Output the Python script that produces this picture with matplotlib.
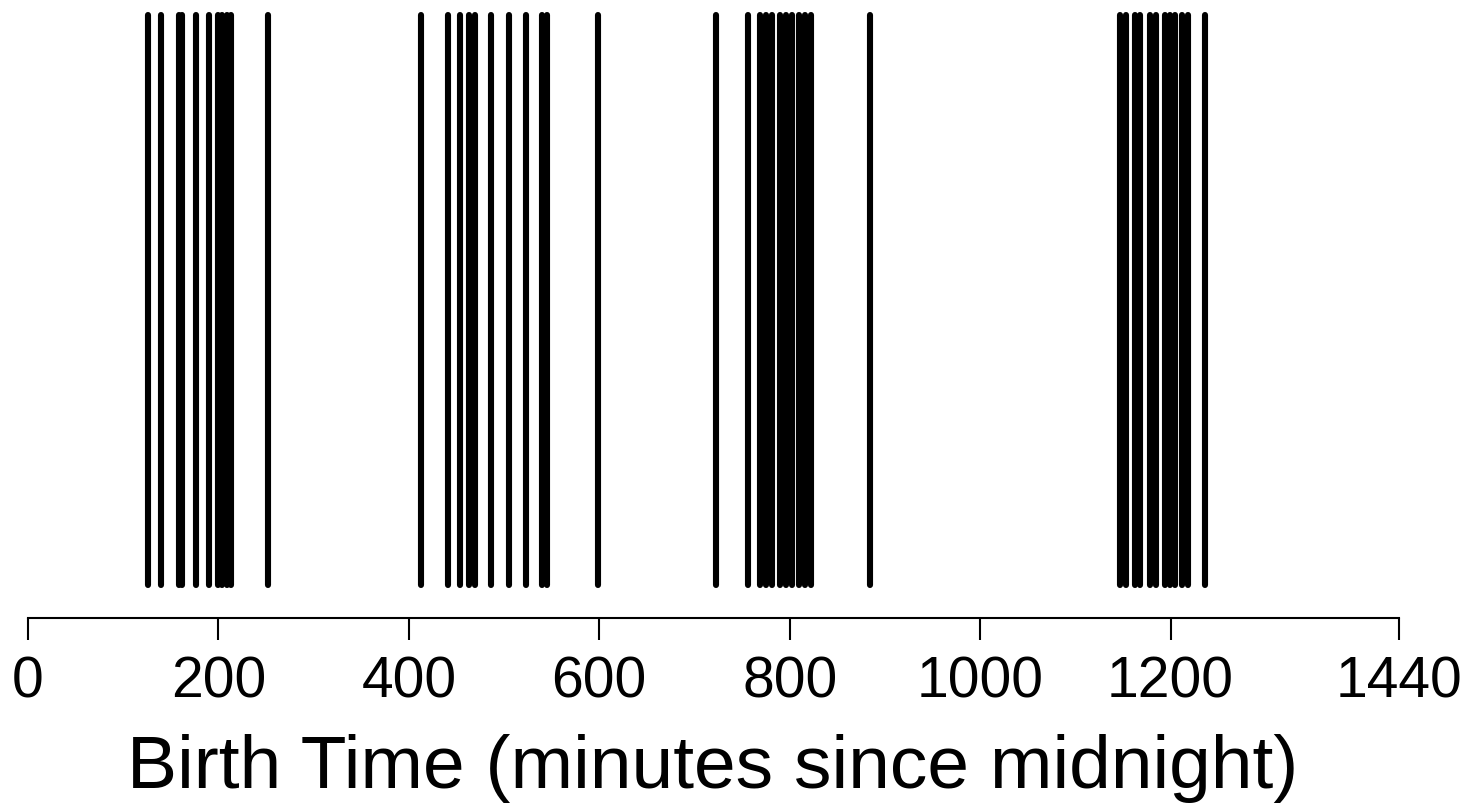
import matplotlib
matplotlib.use('Agg')
import matplotlib.pyplot as plt

# birth times, minutes since midnight
birth_minutes = [126, 140, 159, 162, 176, 190, 200, 204, 209, 213, 252,
                 413, 441, 454, 463, 470, 486, 505, 523, 540, 545, 599,
                 723, 756, 769, 775, 781, 790, 796, 802, 810, 816, 822, 884,
                 1147, 1153, 1163, 1168, 1178, 1185, 1194, 1199, 1205, 1212, 1218, 1236]
tick_values = [0, 200, 400, 600, 800, 1000, 1200, 1440]

plt.rcParams['font.family'] = ['Liberation Sans', 'DejaVu Sans']

W, H = 1473, 807
fig = plt.figure(figsize=(W / 100, H / 100), dpi=100)
ax = fig.add_axes([28 / W, (H - 618) / H, 1371 / W, 618 / H])

ax.vlines(birth_minutes, 0, 1, colors='black', linewidth=4.4,
          capstyle='round', clip_on=False)

ax.set_xlim(0, 1440)
ax.set_ylim(-33 / 570, 1 + 15 / 570)

for side in ['top', 'left', 'right']:
    ax.spines[side].set_visible(False)
ax.spines['bottom'].set_linewidth(1.5)
ax.spines['bottom'].set_bounds(0, 1440)
ax.set_yticks([])
ax.set_xticks(tick_values)
ax.set_xticklabels([str(v) for v in tick_values])
ax.tick_params(axis='x', direction='out', length=16, width=1.5, pad=11, labelsize=41)

fig.text(713 / W, (H - 788) / H, 'Birth Time (minutes since midnight)',
         ha='center', va='baseline', fontsize=54)

fig.savefig('out.png', dpi=100)
